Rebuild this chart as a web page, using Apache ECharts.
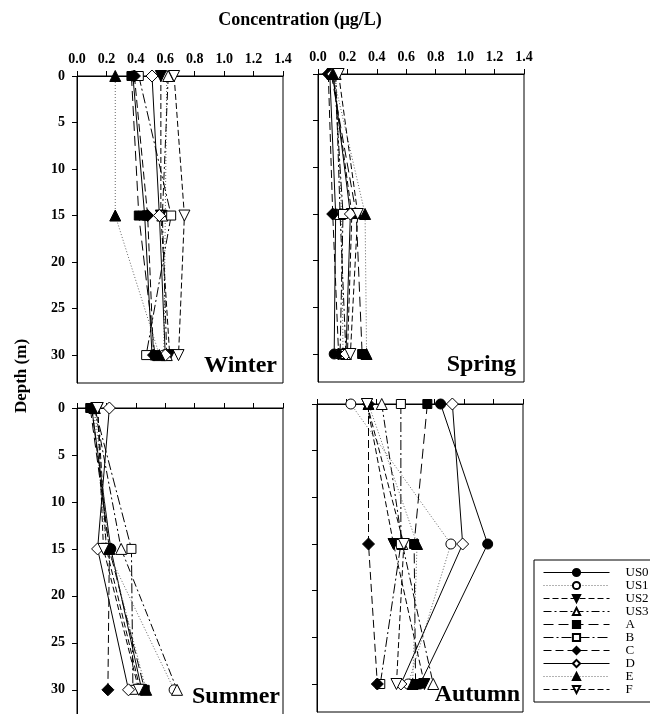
<!DOCTYPE html>
<html>
<head>
<meta charset="utf-8">
<script src="https://cdn.jsdelivr.net/npm/echarts@6/dist/echarts.min.js"></script>
<style>
  html, body { margin: 0; padding: 0; background: #fff; }
  #chart { width: 650px; height: 714px; }
</style>
</head>
<body>
<div id="chart"></div>
<script>
// Sampling stations and depths (m)
const stations = ['US0', 'US1', 'US2', 'US3', 'A', 'B', 'C', 'D', 'E', 'F'];
const depths = [0, 15, 30];

// Concentration (µg/L) per station, one row per station: [0 m, 15 m, 30 m]
const winter = [
  [0.38, 0.46, 0.51], [0.61, 0.60, 0.59], [0.57, 0.57, 0.63], [0.62, 0.58, 0.61],
  [0.37, 0.42, 0.53], [0.42, 0.64, 0.47], [0.39, 0.48, 0.52], [0.51, 0.56, 0.60],
  [0.26, 0.26, 0.56], [0.66, 0.73, 0.69]
];
const spring = [
  [0.08, 0.12, 0.11], [0.12, 0.16, 0.17], [0.10, 0.23, 0.20], [0.12, 0.15, 0.19],
  [0.09, 0.26, 0.30], [0.11, 0.17, 0.15], [0.07, 0.10, 0.14], [0.10, 0.22, 0.19],
  [0.10, 0.32, 0.33], [0.14, 0.27, 0.22]
];
const summer = [
  [0.10, 0.23, 0.44], [0.11, 0.20, 0.66], [0.14, 0.20, 0.43], [0.12, 0.30, 0.68],
  [0.09, 0.22, 0.46], [0.12, 0.37, 0.38], [0.10, 0.22, 0.21], [0.22, 0.14, 0.35],
  [0.12, 0.22, 0.47], [0.14, 0.18, 0.42]
];
const autumn = [
  [0.84, 1.16, 0.70], [0.23, 0.91, 0.62], [0.34, 0.52, 0.73], [0.44, 0.58, 0.79],
  [0.75, 0.66, 0.67], [0.57, 0.57, 0.43], [0.35, 0.35, 0.41], [0.92, 0.99, 0.57],
  [0.35, 0.68, 0.65], [0.34, 0.59, 0.54]
];

// Tick values
const concTicks = [0, 0.2, 0.4, 0.6, 0.8, 1.0, 1.2, 1.4];
const depthTicks = [0, 5, 10, 15, 20, 25, 30];

const seasons = [
  { name: 'Winter', data: winter, grid: { left: 77, top: 76, width: 206, height: 307 }, xLabels: true, yLabels: true, label: [277, 366] },
  { name: 'Spring', data: spring, grid: { left: 318, top: 74, width: 206, height: 308 }, xLabels: true, yLabels: false, label: [516, 365] },
  { name: 'Summer', data: summer, grid: { left: 77, top: 408, width: 206, height: 310 }, xLabels: false, yLabels: true, label: [280, 697] },
  { name: 'Autumn', data: autumn, grid: { left: 317, top: 404, width: 206, height: 308 }, xLabels: false, yLabels: false, label: [520, 695] }
];

// Marker and line style per station
const styles = {
  US0: { symbol: 'circle',   size: 10, rot: 0,   filled: true,  dash: 'solid' },
  US1: { symbol: 'circle',   size: 10, rot: 0,   filled: false, dash: [1, 2], color: '#666' },
  US2: { symbol: 'triangle', size: 11, rot: 180, filled: true,  dash: [6, 3] },
  US3: { symbol: 'triangle', size: 11, rot: 0,   filled: false, dash: [8, 3, 2, 3] },
  A:   { symbol: 'rect',     size: 9,  rot: 0,   filled: true,  dash: [10, 5] },
  B:   { symbol: 'rect',     size: 9,  rot: 0,   filled: false, dash: [10, 3, 2, 3] },
  C:   { symbol: 'diamond',  size: 12, rot: 0,   filled: true,  dash: [8, 4] },
  D:   { symbol: 'diamond',  size: 12, rot: 0,   filled: false, dash: 'solid' },
  E:   { symbol: 'triangle', size: 11, rot: 0,   filled: true,  dash: [1, 2], color: '#666' },
  F:   { symbol: 'triangle', size: 11, rot: 180, filled: false, dash: [6, 3] }
};

const serif = 'Liberation Serif, Times New Roman, serif';

const grids = [], xAxes = [], yAxes = [], series = [], graphics = [];

seasons.forEach((s, gi) => {
  grids.push(Object.assign({
    show: true, borderColor: '#000', borderWidth: 1, backgroundColor: 'transparent',
    containLabel: false, outerBoundsMode: 'none'
  }, s.grid));

  xAxes.push({
    type: 'value', gridIndex: gi, position: 'top',
    min: 0, max: 1.4, interval: 0.2,
    axisLine: { show: true, onZero: false, lineStyle: { color: '#000', width: 1 } },
    axisTick: { show: true, length: 5, lineStyle: { color: '#000' }, customValues: concTicks },
    axisLabel: {
      show: s.xLabels, margin: 10, color: '#000', fontFamily: serif, fontWeight: 'bold', fontSize: 14,
      customValues: concTicks, formatter: v => v.toFixed(1)
    },
    splitLine: { show: false }
  });

  yAxes.push({
    type: 'value', gridIndex: gi, inverse: true,
    min: 0, max: 33,
    axisLine: { show: true, onZero: false, lineStyle: { color: '#000', width: 1 } },
    axisTick: { show: true, length: 5, lineStyle: { color: '#000' }, customValues: depthTicks },
    axisLabel: {
      show: s.yLabels, margin: 12, color: '#000', fontFamily: serif, fontWeight: 'bold', fontSize: 14,
      customValues: depthTicks
    },
    splitLine: { show: false }
  });

  stations.forEach((st, si) => {
    const sty = styles[st];
    series.push({
      type: 'line', name: st, xAxisIndex: gi, yAxisIndex: gi,
      data: depths.map((d, k) => [s.data[si][k], d]),
      symbol: sty.symbol, symbolSize: sty.size, symbolRotate: sty.rot,
      showAllSymbol: true, clip: false, animation: false,
      lineStyle: { color: sty.color || '#000', width: 1, type: sty.dash },
      itemStyle: { color: sty.filled ? '#000' : '#fff', borderColor: '#000', borderWidth: 1, opacity: 1 },
      emphasis: { disabled: true }
    });
  });

  graphics.push({
    type: 'text', x: s.label[0], y: s.label[1], z: 100,
    style: {
      text: s.name, fill: '#000', font: 'bold 24px ' + serif,
      textAlign: 'right', textVerticalAlign: 'middle'
    }
  });
});

// Axis titles
graphics.push({
  type: 'text', x: 300, y: 20,
  style: { text: 'Concentration (μg/L)', fill: '#000', font: 'bold 18px ' + serif, textAlign: 'center', textVerticalAlign: 'middle' }
});
graphics.push({
  type: 'text', x: 22, y: 376, rotation: Math.PI / 2,
  style: { text: 'Depth (m)', fill: '#000', font: 'bold 17px ' + serif, textAlign: 'center', textVerticalAlign: 'middle' }
});

const chart = echarts.init(document.getElementById('chart'), null, { renderer: 'canvas' });
chart.setOption({
  backgroundColor: '#fff',
  animation: false,
  grid: grids,
  xAxis: xAxes,
  yAxis: yAxes,
  series: series,
  graphic: graphics,
  legend: {
    data: stations, orient: 'vertical', left: 534, top: 560,
    padding: [6, 40, 6, 9],
    itemWidth: 66, itemHeight: 9, itemGap: 0,
    borderColor: '#000', borderWidth: 1, backgroundColor: '#fff',
    selectedMode: false,
    lineStyle: { width: 1 },
    textStyle: { color: '#000', fontFamily: serif, fontSize: 13, lineHeight: 13, padding: [0, 0, 0, 11] }
  }
});
</script>
</body>
</html>
